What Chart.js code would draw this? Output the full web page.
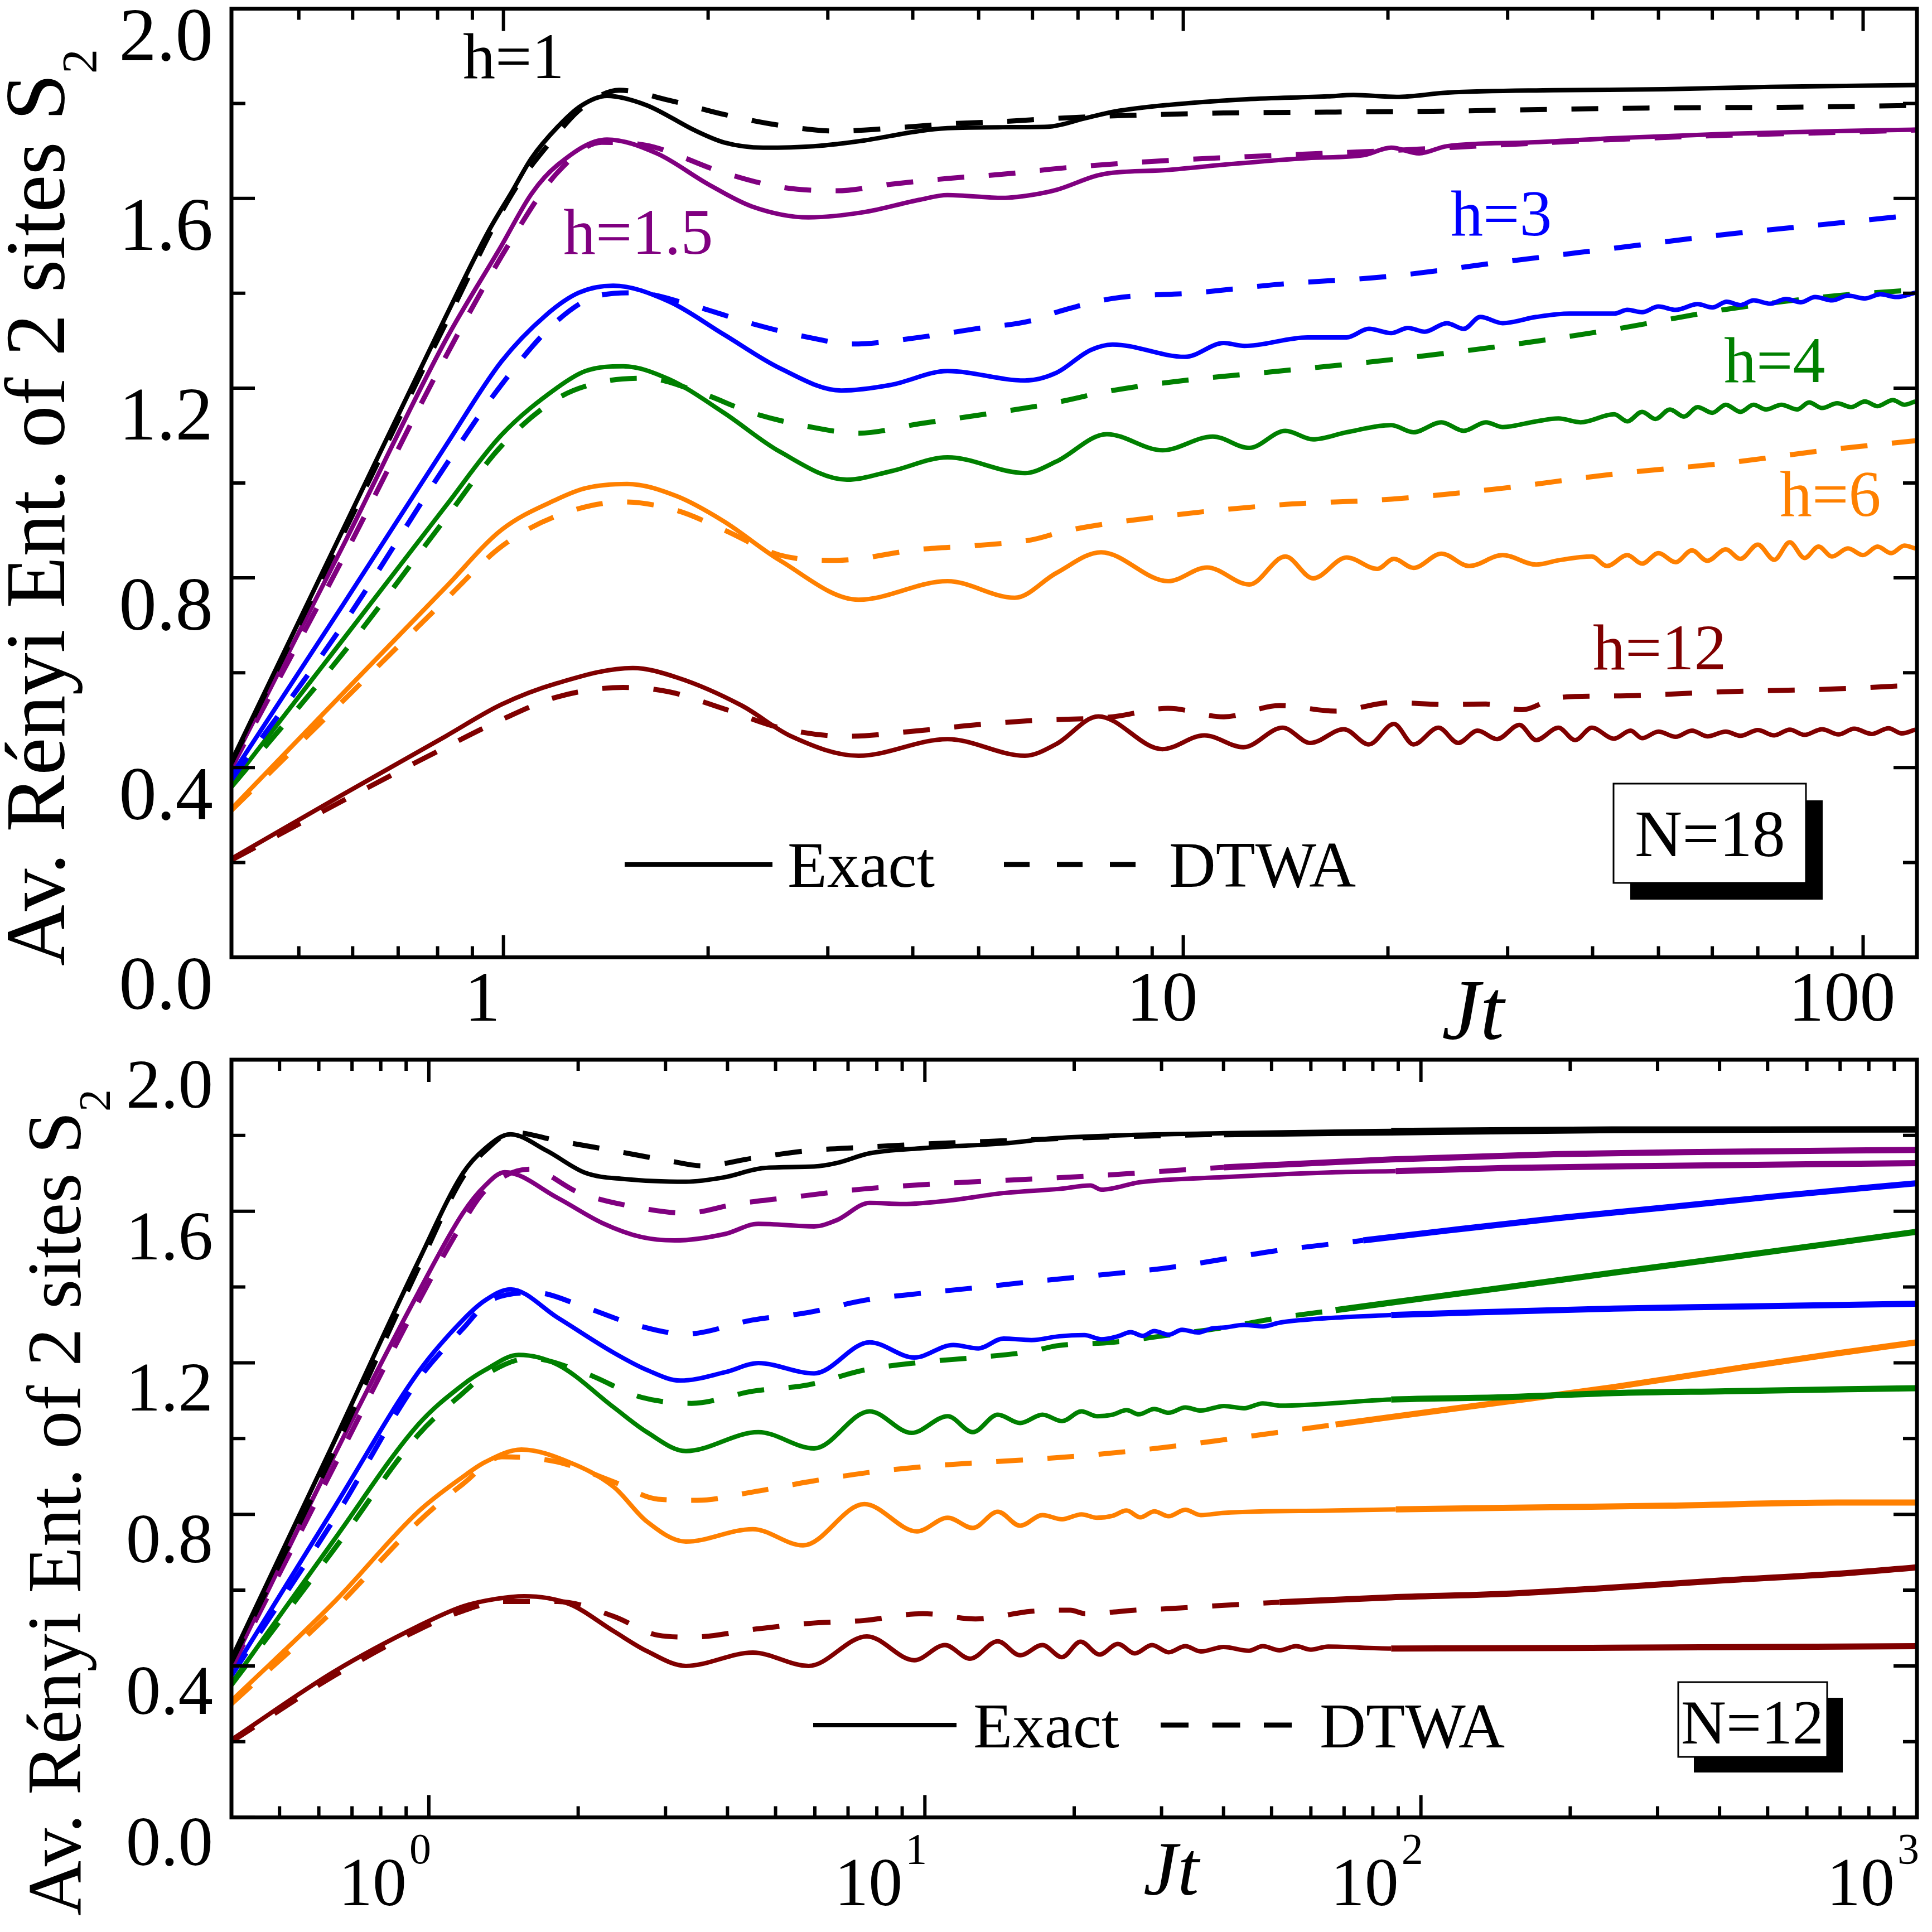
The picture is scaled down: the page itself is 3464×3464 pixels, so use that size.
<!DOCTYPE html>
<html><head><meta charset="utf-8">
<script src="https://cdn.jsdelivr.net/npm/chart.js@4.4.1/dist/chart.umd.min.js"></script>
<style>
html,body{margin:0;padding:0;background:#fff;}
#wrap{position:relative;width:3464px;height:3464px;background:#fff;overflow:hidden;}
.panel{position:absolute;left:0;width:3464px;}
</style></head><body>
<div id="wrap">
<div class="panel" style="top:0;height:1885px"><canvas id="c1" width="3464" height="1885"></canvas></div>
<div class="panel" style="top:1885px;height:1579px"><canvas id="c2" width="3464" height="1579"></canvas></div>
</div>
<script>
// ---------------- DATA : top panel (N=18) ----------------
const n18_h1_exact_t = [0.398,0.58,0.822,0.95,1.03,1.1,1.2,1.3,1.42,1.62,1.92,2.11,2.41,2.86,3.39,4.09,4.5,5.43,6.32,7.18,7.92,9.5,12.4,16.3,17.8,20.6,24.5,35,51,73,119.3];
const n18_h1_exact_s = [0.413,0.900,1.350,1.530,1.615,1.685,1.750,1.795,1.816,1.797,1.742,1.718,1.707,1.710,1.722,1.742,1.748,1.750,1.751,1.769,1.783,1.797,1.809,1.815,1.818,1.814,1.823,1.828,1.830,1.835,1.839];
const n18_h1_dtwa_t = [0.398,0.58,0.822,1.03,1.2,1.3,1.48,1.75,2.11,2.55,3.09,3.72,4.5,5.43,6.56,8.33,11.47,16.74,24.42,35.63,51.98,75.83,119.3];
const n18_h1_dtwa_s = [0.410,0.890,1.336,1.610,1.736,1.789,1.828,1.807,1.777,1.754,1.742,1.748,1.757,1.762,1.769,1.775,1.780,1.782,1.784,1.788,1.791,1.792,1.796];

const n18_h15_exact_t = [0.398,0.58,0.822,0.993,1.1,1.2,1.42,1.68,2.0,2.32,2.81,3.39,4.09,4.5,5.43,5.97,6.51,7.46,7.87,9.5,11.47,15.23,18.4,20.22,22.23,24.42,32.43,43.03,62.8,91.6,119.3];
const n18_h15_exact_s = [0.407,0.866,1.301,1.500,1.610,1.670,1.724,1.695,1.630,1.583,1.560,1.571,1.597,1.607,1.601,1.607,1.618,1.648,1.654,1.660,1.671,1.685,1.691,1.707,1.695,1.710,1.718,1.727,1.736,1.742,1.745];
const n18_h15_dtwa_t = [0.398,0.58,0.822,1.03,1.2,1.395,1.62,2.11,2.55,3.09,3.72,4.5,5.43,6.76,9.5,13.86,20.22,29.5,43.03,62.8,91.6,119.3];
const n18_h15_dtwa_s = [0.400,0.840,1.266,1.515,1.654,1.718,1.712,1.654,1.624,1.616,1.630,1.642,1.651,1.665,1.680,1.691,1.701,1.713,1.724,1.733,1.739,1.744];

const n18_h3_exact_t = [0.398,0.58,0.822,0.993,1.155,1.29,1.45,1.75,2.11,2.55,3.14,3.72,4.5,5.85,6.5,7.3,7.87,10.06,11.47,12.3,15.23,17.39,18.75,20.22,21.4,22.65,24.42,25.85,27.35,29.5,33.04,37.0,43.03,45,47.3,50,53,57.1,60,63,66,69,73,77,81,85,90,95,100.6,106,112,119.3];
const n18_h3_exact_s = [0.384,0.742,1.078,1.256,1.354,1.401,1.416,1.383,1.313,1.242,1.195,1.207,1.236,1.216,1.232,1.280,1.292,1.266,1.295,1.289,1.307,1.307,1.325,1.316,1.327,1.319,1.337,1.325,1.350,1.337,1.350,1.357,1.357,1.365,1.360,1.372,1.365,1.377,1.370,1.382,1.375,1.385,1.378,1.388,1.381,1.392,1.385,1.395,1.389,1.398,1.392,1.401];
const n18_h3_dtwa_t = [0.398,0.58,0.822,0.993,1.2,1.38,1.56,1.92,2.32,2.81,3.26,4.09,4.94,5.97,6.51,7.87,10.44,13.86,20.22,29.5,43.03,62.8,91.6,119.3];
const n18_h3_dtwa_s = [0.375,0.700,1.037,1.207,1.342,1.395,1.401,1.372,1.336,1.307,1.293,1.307,1.325,1.342,1.360,1.389,1.401,1.419,1.436,1.466,1.495,1.524,1.548,1.565];

const n18_h4_exact_t = [0.398,0.58,0.822,0.993,1.2,1.32,1.5,1.75,2.11,2.55,3.2,3.72,4.5,5.85,6.5,7.72,9.32,11.05,12.5,14.13,15.52,17.39,20.22,21.81,23.97,25.85,27.87,29.5,33.04,35.63,38.4,43.03,45,47.3,49.5,51.98,54.5,57.1,60,62.8,66,69,72,75.83,80,83.3,87,91.6,96,100.6,105,110.6,115,119.3];
const n18_h4_exact_s = [0.366,0.669,0.951,1.101,1.201,1.236,1.246,1.219,1.148,1.066,1.007,1.025,1.054,1.021,1.045,1.103,1.069,1.098,1.074,1.110,1.092,1.107,1.122,1.107,1.128,1.110,1.128,1.118,1.130,1.136,1.128,1.145,1.130,1.150,1.135,1.155,1.140,1.160,1.148,1.165,1.150,1.165,1.155,1.165,1.155,1.170,1.158,1.168,1.160,1.172,1.162,1.175,1.165,1.172];
const n18_h4_dtwa_t = [0.398,0.58,0.822,0.993,1.2,1.395,1.62,1.95,2.32,2.81,3.33,4.09,4.94,5.97,6.51,7.87,10.44,13.86,20.22,29.5,43.03,62.8,91.6,119.3];
const n18_h4_dtwa_s = [0.360,0.640,0.925,1.078,1.178,1.213,1.221,1.190,1.148,1.119,1.105,1.125,1.142,1.160,1.170,1.195,1.219,1.236,1.260,1.289,1.324,1.366,1.395,1.407];

const n18_h6_exact_t = [0.398,0.58,0.822,0.993,1.2,1.32,1.52,1.8,2.11,2.55,3.33,4.5,5.65,6.5,7.57,9.5,10.84,12.5,14.13,15.52,17.39,19.29,20.41,21.81,23.97,26.34,29.5,33.04,35.63,39.9,42,45,47.3,50,53,56,59,62.8,66,70,74,78,82,86,90,95,100,105,110,115,119.3];
const n18_h6_exact_s = [0.313,0.556,0.780,0.901,0.966,0.989,0.998,0.972,0.919,0.837,0.754,0.793,0.758,0.810,0.854,0.793,0.822,0.786,0.845,0.799,0.843,0.819,0.840,0.821,0.851,0.825,0.848,0.828,0.837,0.845,0.825,0.848,0.830,0.852,0.833,0.858,0.836,0.860,0.840,0.870,0.838,0.875,0.842,0.866,0.845,0.862,0.848,0.866,0.852,0.868,0.862];
const n18_h6_dtwa_t = [0.398,0.58,0.822,0.993,1.2,1.5,1.8,2.11,2.55,3.09,4.09,4.94,5.97,6.76,9.5,13.86,20.22,29.5,43.03,62.8,91.6,119.3];
const n18_h6_dtwa_s = [0.310,0.540,0.754,0.866,0.931,0.960,0.942,0.901,0.848,0.837,0.860,0.868,0.880,0.900,0.931,0.954,0.966,0.989,1.019,1.042,1.072,1.089];

const n18_h12_exact_t = [0.398,0.58,0.822,0.993,1.2,1.55,1.8,2.24,2.65,3.33,4.5,5.85,6.51,7.5,9.32,10.74,12.26,14.0,15.38,17.22,18.75,20.41,21.81,23.74,25.37,27.1,28.94,31.22,33.04,35.63,37.7,39.9,43,45.5,47.3,50,53,56,59,62.8,66,70,74,78,82,87,92,97,103,109,114,119.3];
const n18_h12_exact_s = [0.208,0.343,0.466,0.533,0.578,0.610,0.590,0.531,0.466,0.425,0.460,0.425,0.450,0.508,0.439,0.468,0.443,0.484,0.452,0.481,0.449,0.492,0.449,0.484,0.452,0.478,0.460,0.490,0.458,0.484,0.458,0.484,0.461,0.478,0.462,0.476,0.465,0.478,0.466,0.476,0.467,0.479,0.468,0.480,0.469,0.481,0.470,0.482,0.471,0.483,0.472,0.480];
const n18_h12_dtwa_t = [0.398,0.58,0.822,0.993,1.2,1.5,1.75,2.1,2.55,3.2,4.09,4.94,5.97,7.87,9.5,11.47,13.86,16.74,20.22,24.42,27.87,31.5,35.63,43.03,62.8,91.6,119.3];
const n18_h12_dtwa_s = [0.205,0.330,0.443,0.501,0.549,0.569,0.560,0.525,0.484,0.466,0.478,0.490,0.499,0.507,0.525,0.507,0.531,0.519,0.537,0.533,0.534,0.522,0.548,0.551,0.560,0.566,0.574];

// ---------------- DATA : bottom panel (N=12) ----------------
const n12_h1_exact_t = [0.4,0.646,0.952,1.171,1.299,1.46,1.727,2.07,2.481,3.298,3.953,4.736,5.98,6.63,7.74,9.77,14.4,18.45,40.1,87.1,245,1000];
const n12_h1_exact_s = [0.419,0.995,1.467,1.700,1.766,1.803,1.760,1.701,1.685,1.678,1.690,1.714,1.718,1.727,1.753,1.766,1.779,1.793,1.806,1.812,1.816,1.816];
const n12_h1_dtwa_t = [0.4,0.646,0.952,1.171,1.3,1.479,1.819,2.356,3.051,3.564,4.498,5.83,7.55,9.77,14.4,22.24,40.1,87.1,245,1000];
const n12_h1_dtwa_s = [0.410,0.970,1.450,1.690,1.760,1.808,1.786,1.760,1.733,1.720,1.740,1.760,1.769,1.777,1.786,1.795,1.803,1.808,1.814,1.816];

const n12_h15_exact_t = [0.4,0.646,0.952,1.171,1.299,1.422,1.819,2.237,2.681,3.131,3.953,4.616,5.98,6.63,7.74,9.04,11.12,14.4,18.66,21.56,22.7,27.2,40.1,67.3,89,146,317,1000];
const n12_h15_exact_s = [0.400,0.958,1.385,1.595,1.668,1.703,1.635,1.569,1.532,1.523,1.540,1.567,1.560,1.576,1.622,1.619,1.628,1.648,1.659,1.668,1.657,1.677,1.690,1.703,1.706,1.714,1.720,1.727];
const n12_h15_dtwa_t = [0.4,0.646,0.952,1.171,1.3,1.598,2.017,2.612,3.298,4.162,5.39,7.55,11.12,16.39,22.24,40.1,87.1,189,411,1000];
const n12_h15_dtwa_s = [0.395,0.930,1.360,1.570,1.655,1.711,1.648,1.611,1.595,1.619,1.637,1.659,1.674,1.685,1.694,1.716,1.737,1.751,1.757,1.762];

const n12_h3_exact_t = [0.4,0.646,0.952,1.171,1.299,1.46,1.819,2.356,2.752,3.214,3.953,4.616,5.98,7.74,9.52,11.41,12.82,14.4,16.39,18.66,20.96,22.7,24.5,26,27.5,29,31,33,35.5,38,40.1,44,48,51.9,67.3,87.1,146,245,411,1000];
const n12_h3_exact_s = [0.380,0.820,1.175,1.313,1.365,1.394,1.319,1.227,1.181,1.153,1.175,1.199,1.172,1.254,1.214,1.247,1.238,1.264,1.260,1.270,1.273,1.262,1.270,1.281,1.271,1.284,1.274,1.287,1.280,1.291,1.293,1.300,1.296,1.306,1.319,1.326,1.335,1.343,1.348,1.356];
const n12_h3_dtwa_t = [0.4,0.646,0.952,1.171,1.333,1.64,2.07,2.612,3.298,4.498,5.83,7.55,9.77,12.65,16.39,22.24,30.96,51.9,76.5,112.8,189,317,532,1000];
const n12_h3_dtwa_s = [0.375,0.790,1.155,1.290,1.365,1.385,1.346,1.300,1.276,1.313,1.333,1.365,1.383,1.398,1.414,1.431,1.451,1.497,1.523,1.549,1.582,1.611,1.641,1.674];

const n12_h4_exact_t = [0.4,0.646,0.952,1.171,1.299,1.517,1.819,2.356,2.752,3.298,4.616,5.98,7.74,9.4,11.12,12.49,14.03,15.56,17.26,18.9,20.69,22.24,23.89,25.5,27,29,31,33.5,36,40.1,44,48,51.9,87.1,146,245,411,1000];
const n12_h4_exact_s = [0.354,0.735,1.037,1.142,1.181,1.221,1.195,1.083,1.017,0.967,1.017,0.974,1.072,1.015,1.059,1.017,1.063,1.041,1.063,1.046,1.072,1.059,1.063,1.075,1.064,1.078,1.068,1.082,1.074,1.086,1.080,1.093,1.087,1.103,1.109,1.120,1.125,1.133];
const n12_h4_dtwa_t = [0.4,0.646,0.952,1.171,1.299,1.598,2.07,2.681,3.385,4.498,5.83,7.55,9.77,12.65,16.39,18.45,23.89,30.96,40.1,51.9,67.3,87.1,146,245,411,690,1000];
const n12_h4_dtwa_s = [0.350,0.710,1.010,1.120,1.168,1.212,1.172,1.109,1.093,1.125,1.142,1.181,1.201,1.214,1.230,1.245,1.254,1.273,1.293,1.319,1.339,1.359,1.398,1.438,1.477,1.517,1.546];

const n12_h6_exact_t = [0.4,0.646,0.952,1.171,1.299,1.537,1.915,2.356,2.752,3.298,4.498,5.68,7.55,9.64,11.12,12.49,14.03,15.56,17.26,18.9,20.69,22.24,23.89,25.5,27.2,29,31,33.5,36,40.1,67.3,89,146,317,690,1000];
const n12_h6_exact_s = [0.308,0.570,0.807,0.899,0.938,0.971,0.938,0.873,0.781,0.728,0.761,0.718,0.827,0.755,0.791,0.764,0.807,0.770,0.798,0.787,0.800,0.791,0.796,0.810,0.792,0.808,0.795,0.812,0.798,0.804,0.810,0.813,0.817,0.823,0.831,0.831];
const n12_h6_dtwa_t = [0.4,0.646,0.952,1.171,1.404,1.819,2.356,2.897,3.473,4.498,5.83,7.55,9.77,12.65,16.39,22.24,30.96,40.1,51.9,67.3,87.1,146,245,411,690,1000];
const n12_h6_dtwa_s = [0.300,0.550,0.780,0.880,0.952,0.938,0.886,0.840,0.837,0.859,0.886,0.909,0.925,0.936,0.945,0.958,0.978,0.997,1.017,1.037,1.057,1.096,1.136,1.181,1.225,1.254];

const n12_h12_exact_t = [0.4,0.646,0.952,1.171,1.368,1.557,1.915,2.356,2.752,3.298,4.498,5.83,7.64,9.52,10.98,12.33,14.03,15.56,17.26,18.9,20.6,22.5,24.5,26.5,28.7,31,33.5,36,40,45,48,51.9,56,60,65,87.1,245,1000];
const n12_h12_exact_s = [0.205,0.386,0.505,0.557,0.577,0.584,0.564,0.492,0.439,0.400,0.435,0.400,0.478,0.415,0.455,0.419,0.465,0.428,0.455,0.423,0.464,0.430,0.458,0.433,0.455,0.436,0.452,0.438,0.450,0.440,0.452,0.441,0.452,0.443,0.451,0.446,0.448,0.452];
const n12_h12_dtwa_t = [0.4,0.646,0.952,1.171,1.404,1.819,2.356,2.897,3.385,4.616,5.83,7.55,9.9,12.65,16.39,19.64,21.01,27.2,30.96,40.1,51.9,87.1,146,245,411,690,1000];
const n12_h12_dtwa_s = [0.200,0.375,0.495,0.545,0.570,0.570,0.531,0.481,0.476,0.498,0.512,0.520,0.538,0.524,0.544,0.547,0.538,0.548,0.551,0.560,0.568,0.581,0.590,0.607,0.626,0.643,0.660];

// ---------------- labels / ticks ----------------
const hLabels = ['h=1','h=1.5','h=3','h=4','h=6','h=12'];
const hColors = ['#000000','#800080','#0000ff','#008000','#ff8000','#800000'];
const yTickValues = [0, 0.4, 0.8, 1.2, 1.6, 2.0];
const yMinorValues = [0.2, 0.6, 1.0, 1.4, 1.8];
const n18XTickValues = [1, 10, 100];
const n18XTickLabels = ['1', '10', '100'];
const n18XMinor = [0.5,0.6,0.7,0.8,0.9,2,3,4,5,6,7,8,9,20,30,40,50,60,70,80,90];
const n12XTickValues = [1, 10, 100, 1000];
const n12XTickBase = ['10','10','10','10'];
const n12XTickExp = ['0','1','2','3'];
const n12XMinor = [0.5,0.6,0.7,0.8,0.9,2,3,4,5,6,7,8,9,20,30,40,50,60,70,80,90,200,300,400,500,600,700,800,900];
const yTitleMain = 'Av. Rényi Ent. of 2 sites S';
const yTitleSub = '2';
const xTitle = 'Jt';
const legendExact = 'Exact';
const legendDtwa = 'DTWA';
const n18Box = 'N=18';
const n12Box = 'N=12';

const SERIF = "'Liberation Serif','Times New Roman',serif";

function pts(t, s) { return t.map((v, i) => ({ x: v, y: s[i] })); }
function buildSets(list, dashUntil, thickFrom) {
  return list.map(([t, s, ci, dashed]) => {
    const d = {
      data: pts(t, s),
      borderColor: hColors[ci],
      backgroundColor: hColors[ci],
      borderWidth: dashed ? 9 : 8,
      pointRadius: 0, pointHoverRadius: 0,
      fill: false,
      tension: 0.4,
      cubicInterpolationMode: 'monotone',
      borderCapStyle: 'butt',
      borderJoinStyle: 'round',
      borderDash: dashed ? [48, 44] : []
    };
    if (dashed) {
      d.segment = {
        borderDash: c => (c.p1.parsed.x <= dashUntil ? [48, 44] : []),
        borderWidth: c => (c.p1.parsed.x <= dashUntil ? 9 : 11)
      };
    } else {
      d.segment = { borderWidth: c => (c.p0.parsed.x >= thickFrom ? 11 : 8) };
    }
    return d;
  });
}

const topList = [
  [n18_h1_exact_t, n18_h1_exact_s, 0, false], [n18_h1_dtwa_t, n18_h1_dtwa_s, 0, true],
  [n18_h15_exact_t, n18_h15_exact_s, 1, false], [n18_h15_dtwa_t, n18_h15_dtwa_s, 1, true],
  [n18_h3_exact_t, n18_h3_exact_s, 2, false], [n18_h3_dtwa_t, n18_h3_dtwa_s, 2, true],
  [n18_h4_exact_t, n18_h4_exact_s, 3, false], [n18_h4_dtwa_t, n18_h4_dtwa_s, 3, true],
  [n18_h6_exact_t, n18_h6_exact_s, 4, false], [n18_h6_dtwa_t, n18_h6_dtwa_s, 4, true],
  [n18_h12_exact_t, n18_h12_exact_s, 5, false], [n18_h12_dtwa_t, n18_h12_dtwa_s, 5, true]
];
const botList = [
  [n12_h1_exact_t, n12_h1_exact_s, 0, false], [n12_h1_dtwa_t, n12_h1_dtwa_s, 0, true],
  [n12_h15_exact_t, n12_h15_exact_s, 1, false], [n12_h15_dtwa_t, n12_h15_dtwa_s, 1, true],
  [n12_h3_exact_t, n12_h3_exact_s, 2, false], [n12_h3_dtwa_t, n12_h3_dtwa_s, 2, true],
  [n12_h4_exact_t, n12_h4_exact_s, 3, false], [n12_h4_dtwa_t, n12_h4_dtwa_s, 3, true],
  [n12_h6_exact_t, n12_h6_exact_s, 4, false], [n12_h6_dtwa_t, n12_h6_dtwa_s, 4, true],
  [n12_h12_exact_t, n12_h12_exact_s, 5, false], [n12_h12_dtwa_t, n12_h12_dtwa_s, 5, true]
];

function text(ctx, s, x, y, size, color, align, style) {
  ctx.font = (style ? style + ' ' : '') + size + 'px ' + SERIF;
  ctx.fillStyle = color || '#000';
  ctx.textAlign = align || 'left';
  ctx.textBaseline = 'alphabetic';
  ctx.fillText(s, x, y);
}
function yTitle(ctx, bx, cy, size, subSize, subShift) {
  ctx.save();
  ctx.translate(bx, cy);
  ctx.rotate(-Math.PI / 2);
  ctx.font = size + 'px ' + SERIF;
  const w1 = ctx.measureText(yTitleMain).width;
  ctx.font = subSize + 'px ' + SERIF;
  const w2 = ctx.measureText(yTitleSub).width;
  const start = -(w1 + w2) / 2;
  text(ctx, yTitleMain, start, 0, size, '#000', 'left');
  text(ctx, yTitleSub, start + w1, subShift, subSize, '#000', 'left');
  ctx.restore();
}
function legendBox(ctx, x, y, w, h, off, label, tx, ty, size) {
  ctx.fillStyle = '#000';
  ctx.fillRect(x + off, y + off, w, h);
  ctx.fillStyle = '#fff';
  ctx.fillRect(x, y, w, h);
  ctx.strokeStyle = '#000'; ctx.lineWidth = 3; ctx.setLineDash([]);
  ctx.strokeRect(x, y, w, h);
  text(ctx, label, tx, ty, size, '#000', 'left');
}

function decoPlugin(cfg) {
  return {
    id: 'deco_' + cfg.name,
    afterDatasetsDraw(chart) {
      const ctx = chart.ctx, a = chart.chartArea, xs = chart.scales.x, ys = chart.scales.y;
      ctx.save();
      ctx.setLineDash([]);
      ctx.strokeStyle = '#000';
      ctx.lineCap = 'butt';
      ctx.lineWidth = 6;
      ctx.beginPath();
      yTickValues.forEach(v => { const p = ys.getPixelForValue(v); ctx.moveTo(a.left, p); ctx.lineTo(a.left + 42, p); ctx.moveTo(a.right, p); ctx.lineTo(a.right - 42, p); });
      yMinorValues.forEach(v => { const p = ys.getPixelForValue(v); ctx.moveTo(a.left, p); ctx.lineTo(a.left + 25, p); ctx.moveTo(a.right, p); ctx.lineTo(a.right - 25, p); });
      cfg.xMajor.forEach(v => { const p = xs.getPixelForValue(v); ctx.moveTo(p, a.bottom); ctx.lineTo(p, a.bottom - 40); ctx.moveTo(p, a.top); ctx.lineTo(p, a.top + 40); });
      cfg.xMinor.forEach(v => { const p = xs.getPixelForValue(v); ctx.moveTo(p, a.bottom); ctx.lineTo(p, a.bottom - 20); ctx.moveTo(p, a.top); ctx.lineTo(p, a.top + 20); });
      ctx.stroke();
      ctx.lineWidth = 7;
      ctx.strokeRect(a.left, a.top, a.right - a.left, a.bottom - a.top);
      cfg.draw(ctx, chart, a, xs, ys);
      ctx.restore();
    }
  };
}

function chartOptions(xMin, xMax, canvasH, areaTop, areaBottom, yFont, yOff, xTicksCfg) {
  return {
    responsive: false,
    animation: false,
    devicePixelRatio: 1,
    layout: { padding: { left: 0, right: 27, top: areaTop, bottom: 0 } },
    plugins: { legend: { display: false }, tooltip: { enabled: false } },
    events: [],
    scales: {
      x: Object.assign({
        type: 'logarithmic', min: xMin, max: xMax,
        grid: { display: false, drawTicks: false },
        border: { display: false },
        afterFit: s => { s.height = canvasH - areaBottom; s.paddingLeft = 0; s.paddingRight = 0; s.paddingTop = 0; s.paddingBottom = 0; }
      }, xTicksCfg),
      y: {
        type: 'linear', min: 0, max: 2,
        grid: { display: false, drawTicks: false },
        border: { display: false },
        afterBuildTicks: s => { s.ticks = yTickValues.map(v => ({ value: v })); },
        ticks: {
          color: '#000', padding: 33, labelOffset: yOff,
          font: { family: SERIF, size: yFont },
          callback: v => Number(v).toFixed(1)
        },
        afterFit: s => { s.width = 415; s.paddingTop = 0; s.paddingBottom = 0; s.paddingLeft = 0; s.paddingRight = 0; }
      }
    }
  };
}

// ---------------- top chart ----------------
const topCfg = {
  name: 'top', xMajor: n18XTickValues, xMinor: n18XMinor,
  draw(ctx) {
    yTitle(ctx, 115, 910, 152, 88, 57);
    text(ctx, xTitle, 2585, 1862, 155, '#000', 'left', 'italic');
    text(ctx, hLabels[0], 830, 140, 116, hColors[0]);
    text(ctx, hLabels[1], 1010, 455, 116, hColors[1]);
    text(ctx, hLabels[2], 2601, 422, 116, hColors[2]);
    text(ctx, hLabels[3], 3091, 685, 116, hColors[3]);
    text(ctx, hLabels[4], 3191, 925, 116, hColors[4]);
    text(ctx, hLabels[5], 2856, 1200, 116, hColors[5]);
    ctx.strokeStyle = '#000'; ctx.lineWidth = 8; ctx.setLineDash([]);
    ctx.beginPath(); ctx.moveTo(1120, 1550); ctx.lineTo(1385, 1550); ctx.stroke();
    text(ctx, legendExact, 1412, 1590, 116);
    ctx.setLineDash([46, 49]); ctx.lineWidth = 9;
    ctx.beginPath(); ctx.moveTo(1800, 1550); ctx.lineTo(2036, 1550); ctx.stroke();
    ctx.setLineDash([]);
    text(ctx, legendDtwa, 2096, 1590, 116);
    legendBox(ctx, 2893, 1405, 345, 178, 30, n18Box, 2931, 1535, 118);
  }
};
new Chart(document.getElementById('c1'), {
  type: 'line',
  data: { datasets: buildSets(topList, Infinity, Infinity) },
  options: chartOptions(0.398, 120, 1885, 15.5, 1716.5, 135, 57, {
    afterBuildTicks: s => { s.ticks = n18XTickValues.map(v => ({ value: v })); },
    ticks: {
      color: '#000', padding: 3, labelOffset: -38, autoSkip: false, maxRotation: 0,
      font: { family: SERIF, size: 128 },
      callback: (v, i) => n18XTickLabels[i]
    }
  }),
  plugins: [decoPlugin(topCfg)]
});

// ---------------- bottom chart ----------------
const botCfg = {
  name: 'bot', xMajor: n12XTickValues, xMinor: n12XMinor,
  draw(ctx, chart, a, xs) {
    yTitle(ctx, 144, 809, 137, 80, 53);
    n12XTickValues.forEach((v, i) => {
      const p = xs.getPixelForValue(v);
      text(ctx, n12XTickBase[i], p - 40, 1531, 122, '#000', 'right');
      text(ctx, n12XTickExp[i], p + 4, 1456, 78, '#000', 'right');
    });
    text(ctx, xTitle, 2050, 1512, 138, '#000', 'left', 'italic');
    ctx.strokeStyle = '#000'; ctx.lineWidth = 8; ctx.setLineDash([]);
    ctx.beginPath(); ctx.moveTo(1458, 1208); ctx.lineTo(1715, 1208); ctx.stroke();
    text(ctx, legendExact, 1745, 1248, 115);
    ctx.setLineDash([50, 42.5]); ctx.lineWidth = 9;
    ctx.beginPath(); ctx.moveTo(2081, 1208); ctx.lineTo(2316, 1208); ctx.stroke();
    ctx.setLineDash([]);
    text(ctx, legendDtwa, 2366, 1248, 115);
    legendBox(ctx, 3009, 1131, 267, 134, 28, n12Box, 3014, 1241, 112);
  }
};
new Chart(document.getElementById('c2'), {
  type: 'line',
  data: { datasets: buildSets(botList, 80, 80) },
  options: chartOptions(0.4, 1000, 1579, 15, 1373.6, 125, 53, {
    afterBuildTicks: s => { s.ticks = n12XTickValues.map(v => ({ value: v })); },
    ticks: { display: false }
  }),
  plugins: [decoPlugin(botCfg)]
});
</script>
</body></html>
